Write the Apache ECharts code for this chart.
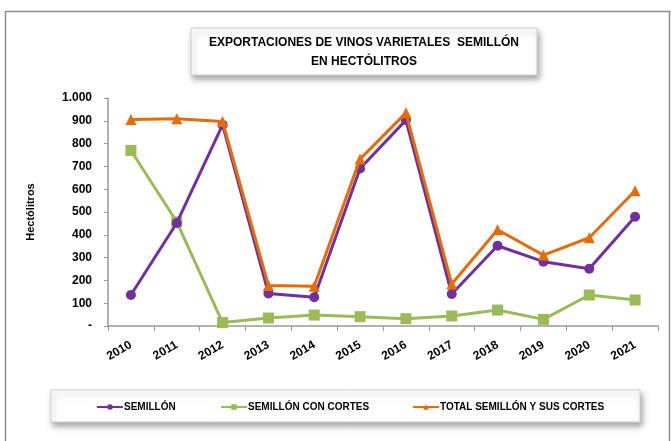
<!DOCTYPE html>
<html>
<head>
<meta charset="utf-8">
<script src="https://cdn.jsdelivr.net/npm/echarts@6/dist/echarts.min.js"></script>
<style>
html, body { margin: 0; padding: 0; background: #fff; }
#chart { width: 671px; height: 441px; }
</style>
</head>
<body>
<div id="chart"></div>
<script>
var years = ['2010', '2011', '2012', '2013', '2014', '2015', '2016', '2017', '2018', '2019', '2020', '2021'];
var semillon = [136, 452, 882, 143, 126, 691, 903, 140, 352, 282, 251, 479];
var semillonCortes = [770, 457, 15, 35, 48, 41, 32, 44, 70, 29, 136, 114];
var totalSemillon = [906, 909, 897, 178, 174, 732, 935, 184, 422, 311, 387, 593];
var seriesNames = ['SEMILLÓN', 'SEMILLÓN CON CORTES', 'TOTAL SEMILLÓN Y SUS CORTES'];
var titleText = 'EXPORTACIONES DE VINOS VARIETALES  SEMILLÓN\nEN HECTÓLITROS';

var fontFam = '"Liberation Sans", "DejaVu Sans", sans-serif';
var myChart = echarts.init(document.getElementById('chart'));

// one legend per item so each sits where it does in the original
function legendItem(name, left) {
    return {
        left: left,
        top: 402,
        padding: 0,
        itemWidth: 26,
        itemHeight: 7,
        textStyle: {
            fontFamily: fontFam,
            fontSize: 10,
            fontWeight: 'bold',
            color: '#000',
            padding: [0, 0, 0, -4]
        },
        data: [name]
    };
}

var boxStyle = {
    fill: '#fff',
    stroke: '#d0d0d0',
    lineWidth: 1,
    shadowBlur: 6,
    shadowOffsetX: 2,
    shadowOffsetY: 4,
    shadowColor: 'rgba(0,0,0,0.35)'
};

var option = {
    backgroundColor: '#fff',
    animation: false,
    legend: [
        legendItem(seriesNames[0], 96),
        legendItem(seriesNames[1], 220),
        legendItem(seriesNames[2], 412)
    ],
    grid: {
        left: 108,
        right: 13,
        top: 98,
        bottom: 115
    },
    xAxis: {
        type: 'category',
        data: years,
        boundaryGap: true,
        axisLine: { lineStyle: { color: '#999', width: 1.5 } },
        axisTick: { show: true, interval: 0, length: 5, lineStyle: { color: '#999' } },
        axisLabel: {
            interval: 0,
            rotate: 30,
            margin: 18,
            fontFamily: fontFam,
            fontSize: 12,
            fontWeight: 'bold',
            color: '#000'
        }
    },
    yAxis: {
        type: 'value',
        min: 0,
        max: 1000,
        interval: 100,
        name: 'Hectólitros',
        nameLocation: 'middle',
        nameRotate: 90,
        nameGap: 72,
        nameTextStyle: {
            fontFamily: fontFam,
            fontSize: 11,
            fontWeight: 'bold',
            color: '#000'
        },
        axisLine: { show: true, lineStyle: { color: '#999', width: 1.5 } },
        axisTick: { show: true, length: 4, lineStyle: { color: '#999' } },
        splitLine: { show: false },
        axisLabel: {
            margin: 16,
            fontFamily: fontFam,
            fontSize: 12,
            fontWeight: 'bold',
            color: '#000',
            formatter: function (v) {
                if (v === 0) return '-';
                if (v === 1000) return '1.000';
                return String(v);
            }
        }
    },
    series: [
        {
            name: seriesNames[0],
            type: 'line',
            data: semillon,
            symbol: 'circle',
            symbolSize: 10,
            lineStyle: { width: 3, color: '#7030A0' },
            itemStyle: { color: '#7030A0' },
            z: 3
        },
        {
            name: seriesNames[1],
            type: 'line',
            data: semillonCortes,
            symbol: 'rect',
            symbolSize: 11,
            lineStyle: { width: 3, color: '#9BBB59' },
            itemStyle: { color: '#9BBB59' },
            z: 2
        },
        {
            name: seriesNames[2],
            type: 'line',
            data: totalSemillon,
            symbol: 'triangle',
            symbolSize: 11,
            lineStyle: { width: 3, color: '#E46C0A' },
            itemStyle: { color: '#E46C0A' },
            z: 4
        }
    ],
    graphic: [
        {
            type: 'rect',
            left: 3,
            top: 9,
            shape: { width: 664, height: 440 },
            style: { fill: null, stroke: '#8c8c8c', lineWidth: 1.5 },
            silent: true
        },
        // title box
        {
            type: 'rect',
            shape: { x: 191, y: 28, width: 346, height: 47 },
            style: boxStyle,
            silent: true
        },
        {
            type: 'text',
            x: 364,
            y: 52,
            style: {
                text: titleText,
                align: 'center',
                verticalAlign: 'middle',
                fontFamily: fontFam,
                fontSize: 12,
                fontWeight: 'bold',
                lineHeight: 19,
                fill: '#000'
            },
            silent: true
        },
        // legend box
        {
            type: 'rect',
            shape: { x: 51, y: 390, width: 589, height: 32 },
            style: boxStyle,
            silent: true
        }
    ]
};

myChart.setOption(option);
</script>
</body>
</html>
